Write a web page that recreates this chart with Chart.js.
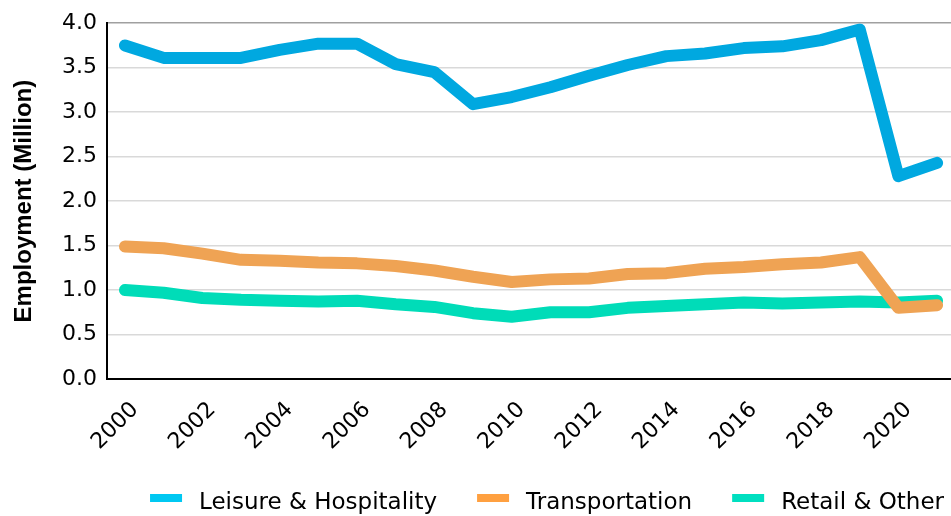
<!DOCTYPE html>
<html>
<head>
<meta charset="utf-8">
<script src="https://cdn.jsdelivr.net/npm/chart.js@4/dist/chart.umd.min.js"></script>
<style>
  html, body { margin: 0; padding: 0; background: #fff; }
  #wrap { width: 951px; height: 516px; }
</style>
</head>
<body>
<div id="wrap"><canvas id="employmentChart"></canvas></div>
<script>
const years = [2000, 2001, 2002, 2003, 2004, 2005, 2006, 2007, 2008, 2009, 2010,
  2011, 2012, 2013, 2014, 2015, 2016, 2017, 2018, 2019, 2020, 2021];
const leisure = [3.75, 3.61, 3.61, 3.61, 3.70, 3.77, 3.77, 3.54, 3.45, 3.09, 3.17,
  3.28, 3.41, 3.53, 3.63, 3.66, 3.72, 3.74, 3.81, 3.93, 2.28, 2.43];
const transportation = [1.49, 1.47, 1.41, 1.34, 1.33, 1.31, 1.30, 1.27, 1.22, 1.15, 1.09,
  1.12, 1.13, 1.18, 1.19, 1.24, 1.26, 1.29, 1.31, 1.37, 0.80, 0.83];
const retail = [1.00, 0.97, 0.91, 0.89, 0.88, 0.87, 0.88, 0.84, 0.81, 0.74, 0.70,
  0.75, 0.75, 0.80, 0.82, 0.84, 0.86, 0.85, 0.86, 0.87, 0.86, 0.88];
const seriesNames = ["Leisure & Hospitality", "Transportation", "Retail & Other"];
const tickYears = [2000, 2002, 2004, 2006, 2008, 2010, 2012, 2014, 2016, 2018, 2020];

const lineColors = ["#00a8e0", "#efa354", "#00dcb8"];
const legendColors = ["#00c8f2", "#ffa040", "#00dfc0"];

// legend drawn by hand so spacing matches the reference
const bottomLegend = {
  id: "bottomLegend",
  afterDraw(chart) {
    const ctx = chart.ctx;
    ctx.save();
    ctx.font = '23px "DejaVu Sans"';
    ctx.textBaseline = "alphabetic";
    ctx.fillStyle = "#000";
    const items = chart.data.datasets.map((ds, i) => ({
      text: ds.label,
      color: legendColors[i],
      w: ctx.measureText(ds.label).width,
    }));
    const boxW = 32, gap = 17, spacing = 40;
    const total = items.reduce((s, it) => s + boxW + gap + it.w, 0) + spacing * (items.length - 1);
    let x = chart.width - 7 - total;
    items.forEach((it) => {
      ctx.fillStyle = it.color;
      ctx.fillRect(x, 494, boxW, 8);
      ctx.fillStyle = "#000";
      ctx.fillText(it.text, x + boxW + gap, 509);
      x += boxW + gap + it.w + spacing;
    });
    ctx.restore();
  },
};

const datasets = [leisure, transportation, retail].map((values, i) => ({
  label: seriesNames[i],
  data: values,
  borderColor: lineColors[i],
  backgroundColor: lineColors[i],
  borderWidth: 12,
  borderCapStyle: "round",
  borderJoinStyle: "round",
  pointRadius: 0,
  tension: 0,
  fill: false,
}));

const config = {
  type: "line",
  data: { labels: years, datasets },
  options: {
    responsive: true,
    maintainAspectRatio: false,
    animation: false,
    layout: { padding: { top: 20, right: 0, bottom: 57, left: 0 } },
    plugins: {
      legend: { display: false },
      tooltip: { enabled: false },
    },
    scales: {
      x: {
        type: "linear",
        min: 1999.535,
        max: 2021.36,
        afterBuildTicks: (axis) => {
          axis.ticks = tickYears.map((value) => ({ value }));
        },
        afterFit: (axis) => { axis.height = 80; },
        grid: { display: false, drawTicks: false },
        border: { color: "#000", width: 2 },
        ticks: {
          callback: (v) => String(v),
          maxRotation: 45,
          minRotation: 45,
          padding: 18,
          labelOffset: 10,
          color: "#000",
          font: { family: "DejaVu Sans", size: 22 },
        },
      },
      y: {
        min: 0,
        max: 4,
        afterFit: (axis) => { axis.width = 107; },
        grid: {
          color: (c) => (c.tick && c.tick.value === 4 ? "#a0a0a0" : "#d9d9d9"),
          lineWidth: 1.5,
          drawTicks: false,
        },
        border: { color: "#000", width: 2 },
        ticks: {
          stepSize: 0.5,
          padding: 10,
          callback: (v) => v.toFixed(1),
          color: "#000",
          font: { family: "DejaVu Sans", size: 22 },
        },
        title: {
          display: true,
          text: "Employment (Million)",
          color: "#000",
          padding: { top: 10, bottom: 0 },
          font: { family: "Liberation Sans", size: 24, weight: "bold" },
        },
      },
    },
  },
  plugins: [bottomLegend],
};

const canvas = document.getElementById("employmentChart");
if (canvas) {
  new Chart(canvas, config);
} else {
  console.error("Canvas element not found");
}
</script>
</body>
</html>
